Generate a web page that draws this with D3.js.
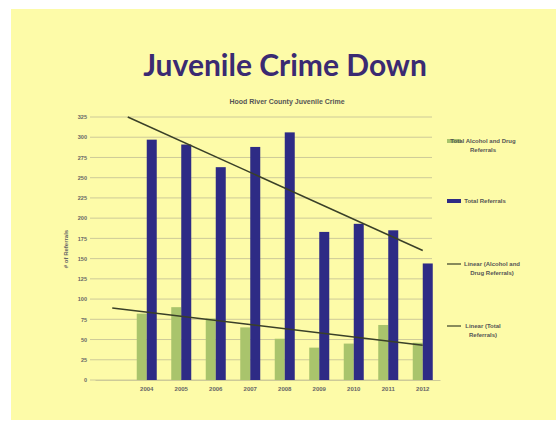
<!DOCTYPE html>
<html>
<head>
<meta charset="utf-8">
<script src="https://cdn.jsdelivr.net/npm/d3@7"></script>
<style>
  html, body { margin: 0; padding: 0; background: #ffffff; }
  svg { display: block; }
</style>
</head>
<body>
<svg id="chart"></svg>
<script>
// categories (first slot is empty in the original chart)
const years = ['', '2004', '2005', '2006', '2007', '2008', '2009', '2010', '2011', '2012'];
const totalReferrals = [null, 297, 291, 263, 288, 306, 183, 193, 185, 144];
const alcoholDrugReferrals = [null, 82, 90, 76, 65, 51, 40, 45, 68, 46];
const yTicks = [0, 25, 50, 75, 100, 125, 150, 175, 200, 225, 250, 275, 300, 325];

// linear trend lines as [category index, value]
const trendTotal = [[0.45, 325], [9, 160]];
const trendAlcohol = [[0, 89], [9, 43]];

const legendItems = [
  { lines: ['Total Alcohol and Drug', 'Referrals'], type: 'rect', color: '#a9c46c', y: 141, cx: 36 },
  { lines: ['Total Referrals'], type: 'rect', color: '#2e2b85', y: 201, cx: 38 },
  { lines: ['Linear (Alcohol and', 'Drug Referrals)'], type: 'line', color: '#3a4028', y: 264, cx: 45 },
  { lines: ['Linear (Total', 'Referrals)'], type: 'line', color: '#3a4028', y: 326, cx: 36 }
];

const W = 557, H = 421;
const svg = d3.select('#chart').attr('width', W).attr('height', H);

// slide background
svg.append('rect')
  .attr('x', 11).attr('y', 9)
  .attr('width', 545).attr('height', 411)
  .attr('fill', '#fdfba8');

// slide title
svg.append('text')
  .attr('x', 285).attr('y', 76)
  .attr('text-anchor', 'middle')
  .attr('font-family', 'Lato, "Open Sans", sans-serif')
  .attr('font-weight', 'bold')
  .attr('font-size', 30)
  .attr('fill', '#3a2a72')
  .text('Juvenile Crime Down');

// chart title
svg.append('text')
  .attr('x', 287).attr('y', 104)
  .attr('text-anchor', 'middle')
  .attr('font-family', '"Liberation Sans", Arial, sans-serif')
  .attr('font-weight', 'bold')
  .attr('font-size', 7)
  .attr('fill', '#555')
  .text('Hood River County Juvenile Crime');

// scales
const x = d3.scaleBand()
  .domain(years)
  .range([95, 440]);

const xIdx = d3.scaleLinear()
  .domain([0, years.length - 1])
  .range([x(years[0]) + x.bandwidth() / 2, x(years[years.length - 1]) + x.bandwidth() / 2]);

const y = d3.scaleLinear()
  .domain([0, 325])
  .range([380, 117]);

const seriesX = d3.scaleBand()
  .domain(['alcohol', 'total'])
  .range([-10, 10]);

// gridlines
svg.append('g')
  .selectAll('line')
  .data(yTicks)
  .join('line')
  .attr('x1', 90).attr('x2', 432)
  .attr('y1', d => y(d)).attr('y2', d => y(d))
  .attr('stroke', '#cdca98')
  .attr('stroke-width', 1);

// y axis labels
const yAxisG = svg.append('g')
  .attr('transform', 'translate(90,0)')
  .call(d3.axisLeft(y).tickValues(yTicks).tickSize(0).tickPadding(3));
yAxisG.select('.domain').remove();
yAxisG.selectAll('text')
  .attr('font-family', '"Liberation Sans", Arial, sans-serif')
  .attr('font-size', 5.5)
  .attr('font-weight', 'bold')
  .attr('fill', '#666');

// x axis labels
const xAxisG = svg.append('g')
  .attr('transform', 'translate(0,380)')
  .call(d3.axisBottom(x).tickSize(0).tickPadding(7));
xAxisG.select('.domain')
  .attr('stroke', '#cdca98');
xAxisG.selectAll('text')
  .attr('font-family', '"Liberation Sans", Arial, sans-serif')
  .attr('font-size', 6)
  .attr('font-weight', 'bold')
  .attr('fill', '#666');

// y axis title
svg.append('text')
  .attr('transform', 'translate(68,249) rotate(-90)')
  .attr('text-anchor', 'middle')
  .attr('font-family', '"Liberation Sans", Arial, sans-serif')
  .attr('font-size', 6)
  .attr('font-weight', 'bold')
  .attr('fill', '#666')
  .text('# of Referrals');

// bars
const rows = years.map((yr, i) => ({ yr, total: totalReferrals[i], alcohol: alcoholDrugReferrals[i] }))
  .filter(d => d.total !== null);

const groups = svg.append('g')
  .selectAll('g')
  .data(rows)
  .join('g')
  .attr('transform', d => `translate(${x(d.yr) + x.bandwidth() / 2},0)`);

groups.append('rect')
  .attr('x', seriesX('alcohol'))
  .attr('width', seriesX.bandwidth())
  .attr('y', d => y(d.alcohol))
  .attr('height', d => y(0) - y(d.alcohol))
  .attr('fill', '#a9c46c');

groups.append('rect')
  .attr('x', seriesX('total'))
  .attr('width', seriesX.bandwidth())
  .attr('y', d => y(d.total))
  .attr('height', d => y(0) - y(d.total))
  .attr('fill', '#2e2b85');

// trend lines
const trendLine = d3.line()
  .x(d => xIdx(d[0]))
  .y(d => y(d[1]));

svg.append('path')
  .attr('d', trendLine(trendTotal))
  .attr('fill', 'none')
  .attr('stroke', '#3a4028')
  .attr('stroke-width', 1.5);

svg.append('path')
  .attr('d', trendLine(trendAlcohol))
  .attr('fill', 'none')
  .attr('stroke', '#3a4028')
  .attr('stroke-width', 1.5);

// legend
const legend = svg.append('g')
  .selectAll('g')
  .data(legendItems)
  .join('g')
  .attr('transform', d => `translate(447,${d.y})`);

legend.filter(d => d.type === 'rect')
  .append('rect')
  .attr('x', 0).attr('y', -2)
  .attr('width', 14).attr('height', 4)
  .attr('fill', d => d.color);

legend.filter(d => d.type === 'line')
  .append('line')
  .attr('x1', 0).attr('x2', 14)
  .attr('y1', 0).attr('y2', 0)
  .attr('stroke', d => d.color)
  .attr('stroke-width', 1.2);

legend.append('text')
  .attr('font-family', '"Liberation Sans", Arial, sans-serif')
  .attr('font-size', 6)
  .attr('font-weight', 'bold')
  .attr('fill', '#555')
  .attr('text-anchor', 'middle')
  .each(function (d) {
    const t = d3.select(this);
    d.lines.forEach((ln, i) => {
      t.append('tspan')
        .attr('x', d.cx)
        .attr('y', 2 + i * 8.5)
        .text(ln);
    });
  });
</script>
</body>
</html>
